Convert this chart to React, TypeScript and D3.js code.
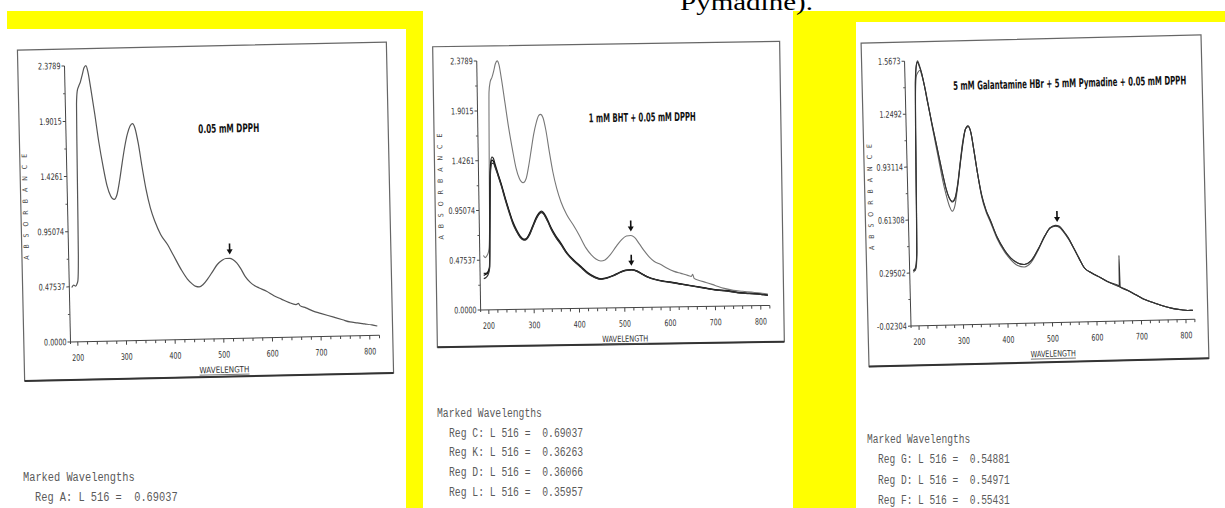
import React, { useLayoutEffect, useRef, useState } from 'react';
import * as d3 from 'd3';

type Pt = [number, number];

// ---------------- data ----------------
const xTickValues = [200, 300, 400, 500, 600, 700, 800];
const yTickLabelsDPPH = ['0.0000', '0.47537', '0.95074', '1.4261', '1.9015', '2.3789'];
const yTickLabelsGal = ['-0.02304', '0.29502', '0.61308', '0.93114', '1.2492', '1.5673'];

const markedA = ['Reg A: L 516 =  0.69037'];
const markedBHT = [
  'Reg C: L 516 =  0.69037',
  'Reg K: L 516 =  0.36263',
  'Reg D: L 516 =  0.36066',
  'Reg L: L 516 =  0.35957',
];
const markedGal = [
  'Reg G: L 516 =  0.54881',
  'Reg D: L 516 =  0.54971',
  'Reg F: L 516 =  0.55431',
];

const dpphA: Pt[] = [
  [190, 0.47], [194, 0.49], [198, 0.48], [201, 0.5], [203, 0.53], [205, 0.75], [206, 1.2], [207, 1.7],
  [208, 2.05], [210, 2.16], [213, 2.2], [217, 2.24], [221, 2.3], [225, 2.36], [229, 2.378], [233, 2.32],
  [238, 2.18], [245, 1.96], [252, 1.72], [260, 1.5], [267, 1.34], [274, 1.25], [281, 1.22], [287, 1.26],
  [293, 1.38], [299, 1.53], [305, 1.67], [311, 1.78], [317, 1.85], [322, 1.87], [327, 1.83], [333, 1.7],
  [340, 1.49], [347, 1.3], [355, 1.14], [364, 1.02], [375, 0.91], [389, 0.82], [400, 0.73], [416, 0.6],
  [428, 0.52], [437, 0.48], [445, 0.455], [452, 0.45], [460, 0.47], [470, 0.52], [480, 0.58], [490, 0.64],
  [500, 0.675], [508, 0.69], [516, 0.69], [522, 0.68], [530, 0.65], [538, 0.6], [547, 0.53], [557, 0.48],
  [566, 0.45], [575, 0.43], [590, 0.4], [605, 0.36], [620, 0.33], [635, 0.3], [650, 0.28], [655, 0.29],
  [658, 0.27], [670, 0.25], [685, 0.22], [700, 0.2], [715, 0.18], [730, 0.16], [745, 0.14], [760, 0.12],
  [775, 0.11], [790, 0.1], [805, 0.09], [816, 0.08],
];

const dpphC: Pt[] = [
  [190, 0.52], [194, 0.5], [198, 0.52], [201, 0.55], [203, 0.6], [205, 0.9], [206, 1.4], [207, 1.8],
  [208, 2.08], [211, 2.18], [215, 2.22], [219, 2.28], [223, 2.35], [227, 2.378], [231, 2.34], [236, 2.2],
  [243, 1.97], [250, 1.74], [258, 1.52], [265, 1.35], [272, 1.25], [280, 1.21], [287, 1.25], [293, 1.37],
  [299, 1.52], [305, 1.67], [311, 1.78], [317, 1.85], [321, 1.86], [326, 1.83], [332, 1.71], [339, 1.5],
  [346, 1.31], [354, 1.15], [363, 1.02], [375, 0.9], [389, 0.8], [402, 0.7], [416, 0.58], [428, 0.51],
  [438, 0.47], [449, 0.45], [458, 0.46], [470, 0.51], [482, 0.58], [495, 0.65], [506, 0.685], [516, 0.69],
  [524, 0.67], [534, 0.61], [545, 0.54], [556, 0.48], [566, 0.44], [580, 0.41], [595, 0.37], [610, 0.34],
  [625, 0.32], [640, 0.3], [648, 0.29], [651, 0.31], [654, 0.27], [665, 0.25], [680, 0.23], [700, 0.2],
  [720, 0.17], [740, 0.15], [760, 0.14], [780, 0.13], [800, 0.12], [816, 0.11],
];

const bhtK: Pt[] = [
  [190, 0.35], [195, 0.35], [200, 0.37], [203, 0.41], [205, 0.8], [207, 1.2], [209, 1.4], [212, 1.46],
  [215, 1.45], [219, 1.39], [225, 1.3], [232, 1.2], [240, 1.07], [248, 0.95], [256, 0.84], [264, 0.76],
  [272, 0.7], [280, 0.67], [286, 0.68], [293, 0.73], [300, 0.8], [307, 0.87], [314, 0.92], [320, 0.935],
  [326, 0.91], [333, 0.85], [341, 0.77], [350, 0.7], [361, 0.63], [375, 0.53], [390, 0.46], [405, 0.4],
  [420, 0.34], [435, 0.3], [449, 0.28], [462, 0.29], [475, 0.31], [490, 0.34], [503, 0.36], [516, 0.363],
  [528, 0.35], [540, 0.32], [553, 0.29], [566, 0.27], [585, 0.25], [600, 0.24], [625, 0.22], [650, 0.2],
  [675, 0.18], [700, 0.16], [725, 0.15], [750, 0.13], [775, 0.12], [800, 0.11], [816, 0.1],
];
const bhtD: Pt[] = [
  [190, 0.33], [195, 0.34], [200, 0.36], [203, 0.4], [205, 0.78], [207, 1.18], [209, 1.37], [212, 1.43],
  [215, 1.42], [219, 1.37], [225, 1.29], [232, 1.19], [240, 1.06], [248, 0.94], [256, 0.83], [264, 0.75],
  [272, 0.69], [280, 0.665], [286, 0.675], [293, 0.72], [300, 0.79], [307, 0.86], [314, 0.91], [320, 0.925],
  [326, 0.9], [333, 0.84], [341, 0.76], [350, 0.69], [361, 0.62], [375, 0.525], [390, 0.455], [405, 0.395],
  [420, 0.335], [435, 0.295], [449, 0.277], [462, 0.287], [475, 0.307], [490, 0.337], [503, 0.357], [516, 0.361],
  [528, 0.348], [540, 0.318], [553, 0.288], [566, 0.268], [585, 0.248], [600, 0.238], [625, 0.218], [650, 0.198],
  [675, 0.178], [700, 0.158], [725, 0.145], [750, 0.128], [775, 0.118], [800, 0.108], [816, 0.098],
];
const bhtL: Pt[] = [
  [190, 0.3], [195, 0.31], [200, 0.34], [203, 0.39], [205, 0.76], [207, 1.15], [209, 1.34], [212, 1.4],
  [215, 1.4], [219, 1.36], [225, 1.28], [232, 1.18], [240, 1.05], [248, 0.93], [256, 0.82], [264, 0.745],
  [272, 0.685], [280, 0.66], [286, 0.67], [293, 0.715], [300, 0.785], [307, 0.855], [314, 0.905], [320, 0.92],
  [326, 0.895], [333, 0.835], [341, 0.755], [350, 0.685], [361, 0.615], [375, 0.52], [390, 0.45], [405, 0.39],
  [420, 0.33], [435, 0.292], [449, 0.275], [462, 0.285], [475, 0.305], [490, 0.335], [503, 0.355], [516, 0.36],
  [528, 0.346], [540, 0.316], [553, 0.286], [566, 0.266], [585, 0.246], [600, 0.236], [625, 0.216], [650, 0.196],
  [675, 0.176], [700, 0.156], [725, 0.143], [750, 0.126], [775, 0.116], [800, 0.106], [816, 0.096],
];

const galG: Pt[] = [
  [190, 0.31], [194, 0.31], [197, 0.34], [199, 0.42], [201, 0.75], [203, 1.15], [205, 1.42], [208, 1.53],
  [211, 1.567], [214, 1.55], [219, 1.5], [225, 1.42], [232, 1.31], [240, 1.19], [247, 1.09], [254, 0.99],
  [261, 0.89], [268, 0.8], [275, 0.74], [282, 0.72], [288, 0.74], [295, 0.83], [302, 0.96], [309, 1.08],
  [315, 1.15], [321, 1.17], [327, 1.13], [333, 1.02], [340, 0.88], [348, 0.75], [357, 0.66], [366, 0.6],
  [380, 0.5], [396, 0.42], [410, 0.37], [425, 0.34], [440, 0.33], [455, 0.35], [472, 0.42], [488, 0.5],
  [500, 0.545], [512, 0.555], [520, 0.55], [530, 0.52], [540, 0.48], [552, 0.42], [563, 0.36], [575, 0.3],
  [590, 0.27], [610, 0.24], [630, 0.21], [650, 0.185], [670, 0.16], [690, 0.13], [710, 0.1], [730, 0.08],
  [750, 0.06], [770, 0.045], [790, 0.035], [805, 0.03], [816, 0.03],
];
const galD: Pt[] = [
  [190, 0.3], [194, 0.31], [197, 0.33], [199, 0.4], [201, 0.7], [203, 1.1], [205, 1.38], [208, 1.48],
  [212, 1.5], [216, 1.51], [220, 1.48], [226, 1.41], [233, 1.3], [240, 1.18], [247, 1.07], [254, 0.96],
  [261, 0.85], [268, 0.76], [275, 0.69], [281, 0.66], [287, 0.69], [294, 0.8], [301, 0.94], [308, 1.07],
  [315, 1.15], [321, 1.17], [327, 1.13], [333, 1.02], [340, 0.88], [348, 0.74], [357, 0.65], [366, 0.59],
  [380, 0.49], [396, 0.41], [410, 0.36], [425, 0.325], [440, 0.315], [455, 0.34], [472, 0.415], [488, 0.5],
  [500, 0.545], [512, 0.556], [520, 0.55], [530, 0.52], [540, 0.48], [552, 0.42], [563, 0.36], [575, 0.3],
  [590, 0.27], [610, 0.24], [630, 0.21], [650, 0.185], [670, 0.16], [690, 0.13], [710, 0.1], [730, 0.08],
  [750, 0.06], [770, 0.045], [790, 0.035], [805, 0.03], [816, 0.03],
];
const galF: Pt[] = [
  [190, 0.31], [194, 0.32], [197, 0.35], [199, 0.43], [201, 0.76], [203, 1.16], [205, 1.43], [208, 1.54],
  [211, 1.56], [214, 1.54], [219, 1.5], [225, 1.42], [232, 1.31], [240, 1.19], [247, 1.09], [254, 0.99],
  [261, 0.89], [268, 0.8], [275, 0.74], [282, 0.715], [288, 0.735], [295, 0.82], [302, 0.95], [309, 1.07],
  [315, 1.15], [321, 1.165], [327, 1.13], [333, 1.02], [340, 0.88], [348, 0.75], [357, 0.66], [366, 0.6],
  [380, 0.5], [396, 0.42], [410, 0.37], [425, 0.34], [440, 0.33], [455, 0.35], [472, 0.42], [488, 0.5],
  [500, 0.547], [512, 0.56], [520, 0.555], [530, 0.525], [540, 0.485], [552, 0.42], [563, 0.36], [575, 0.3],
  [590, 0.27], [610, 0.24], [630, 0.21], [650, 0.19], [652, 0.185], [653, 0.37], [654, 0.18], [670, 0.16],
  [690, 0.13], [710, 0.1], [730, 0.08], [750, 0.06], [770, 0.045], [790, 0.035], [805, 0.03], [816, 0.03],
];

// ---------------- layout ----------------
interface Series { data: Pt[]; color: string; width: number }
interface PanelCfg {
  frame: [number, number, number, number];
  angle: number;
  xRange: [number, number];
  axisStart: number;
  yRange: [number, number];
  yLabels: string[];
  title: string;
  titleX: number;
  titleY: number;
  titleW: number;
  ylabX: number;
  ylabY: number;
  wlW: number;
  series: Series[];
  arrows: number[];
}

const panels: PanelCfg[] = [
  {
    frame: [21, 46, 390, 377], angle: -1.25,
    xRange: [75, 367], axisStart: 185, yRange: [339, 63], yLabels: yTickLabelsDPPH,
    title: '0.05 mM DPPH', titleX: 200, titleY: 128, titleW: 61,
    ylabX: 25, ylabY: 203, wlW: 50,
    series: [{ data: dpphA, color: '#555', width: 1.2 }],
    arrows: [0.69],
  },
  {
    frame: [435, 44, 782, 344.5], angle: -0.9,
    xRange: [487, 759], axisStart: 182, yRange: [308, 59], yLabels: yTickLabelsDPPH,
    title: '1 mM BHT + 0.05 mM DPPH', titleX: 590, titleY: 117, titleW: 107,
    ylabX: 440, ylabY: 184, wlW: 46,
    series: [
      { data: dpphC, color: '#777', width: 1.1 },
      { data: bhtK, color: '#222', width: 1.2 },
      { data: bhtD, color: '#111', width: 1.2 },
      { data: bhtL, color: '#333', width: 1.2 },
    ],
    arrows: [0.69, 0.363],
  },
  {
    frame: [865, 39, 1205, 362.5], angle: -1.4,
    xRange: [916, 1183], axisStart: 182, yRange: [323, 58], yLabels: yTickLabelsGal,
    title: '5 mM Galantamine HBr + 5 mM Pymadine + 0.05 mM DPPH', titleX: 956, titleY: 83, titleW: 233,
    ylabX: 870, ylabY: 193, wlW: 45,
    series: [
      { data: galD, color: '#666', width: 1.1 },
      { data: galG, color: '#444', width: 1.1 },
      { data: galF, color: '#333', width: 1.1 },
    ],
    arrows: [0.556],
  },
];

const markedBlocks = [
  { header: 'Marked Wavelengths', lines: markedA, hx: 23, rx: 35, y: 477, step: 20, cw: 6.2 },
  { header: 'Marked Wavelengths', lines: markedBHT, hx: 437, rx: 449, y: 413, step: 19.7, cw: 5.83 },
  { header: 'Marked Wavelengths', lines: markedGal, hx: 867, rx: 878, y: 439, step: 20.3, cw: 5.73 },
];

const condensed = "'DejaVu Sans Condensed', 'Liberation Sans Narrow', 'DejaVu Sans', sans-serif";

function labelWidth(s: string) {
  let w = 0;
  for (const c of s) w += c === '.' ? 2 : c === '-' ? 3.5 : 4.1;
  return w;
}

// text squeezed horizontally to a given width with a real transform (keeps bbox honest)
function FitText(props: {
  x: number; y: number; width: number; text: string; fontFamily: string; fontSize: number;
  fontWeight?: string; fill: string; anchor?: string;
}) {
  const ref = useRef<SVGTextElement>(null);
  const [s, setS] = useState(0.7);
  useLayoutEffect(() => {
    if (ref.current) {
      const len = ref.current.getComputedTextLength();
      if (len > 0) setS(props.width / len);
    }
  }, [props.text, props.width, props.fontSize, props.fontFamily]);
  return (
    <text ref={ref} transform={`translate(${props.x},${props.y}) scale(${s},1)`} x={0} y={0}
      textAnchor={props.anchor || 'start'} fontFamily={props.fontFamily} fontSize={props.fontSize}
      fontWeight={props.fontWeight} fill={props.fill} style={{ whiteSpace: 'pre' }}>
      {props.text}
    </text>
  );
}

function Panel({ cfg }: { cfg: PanelCfg }) {
  const x = d3.scaleLinear().domain([200, 800]).range(cfg.xRange);
  const yVals = cfg.yLabels.map(Number);
  const y = d3.scaleLinear().domain([yVals[0], yVals[yVals.length - 1]]).range(cfg.yRange);
  const line = d3.line<Pt>().x((d) => x(d[0])).y((d) => y(d[1])).curve(d3.curveMonotoneX);
  const [fx0, fy0, fx1, fy1] = cfg.frame;
  const cx = (fx0 + fx1) / 2;
  const cy = (fy0 + fy1) / 2;
  const ax = x(cfg.axisStart);
  const axEnd = x(820);
  const yBase = cfg.yRange[0];
  const yTop = cfg.yRange[1];
  const minorX = d3.range(200, 821, 20);
  const minorY = yVals.slice(0, -1).map((v, i) => (v + yVals[i + 1]) / 2);
  const wlX = x(500);
  return (
    <g transform={`rotate(${cfg.angle},${cx},${cy})`}>
      <rect x={fx0} y={fy0} width={fx1 - fx0} height={fy1 - fy0} fill="none" stroke="#666" strokeWidth={1.2} />
      <line x1={fx0} x2={fx1} y1={fy1} y2={fy1} stroke="#333" strokeWidth={2} />
      <line x1={ax} x2={ax} y1={yTop} y2={yBase + 2} stroke="#444" strokeWidth={1} />
      <line x1={ax} x2={axEnd} y1={yBase} y2={yBase} stroke="#444" strokeWidth={1} />
      {yVals.map((v, i) => (
        <g key={'yt' + i}>
          <line x1={ax - 3} x2={ax} y1={y(v)} y2={y(v)} stroke="#444" />
          <text x={ax - 4} y={y(v) + 3} textAnchor="end" fontFamily={condensed} fontSize={9}
            fill="#333" textLength={labelWidth(cfg.yLabels[i])} lengthAdjust="spacingAndGlyphs">
            {cfg.yLabels[i]}
          </text>
        </g>
      ))}
      {minorY.map((v, i) => (
        <line key={'ym' + i} x1={ax - 2} x2={ax} y1={y(v)} y2={y(v)} stroke="#555" />
      ))}
      {minorX.map((v) => (
        <line key={'xm' + v} x1={x(v)} x2={x(v)} y1={yBase} y2={yBase + (v % 100 === 0 ? 4 : 3)} stroke="#444" />
      ))}
      {xTickValues.map((v) => (
        <text key={'xl' + v} x={x(v)} y={yBase + 19} textAnchor="middle" fontFamily={condensed} fontSize={9}
          fill="#333" textLength={12} lengthAdjust="spacingAndGlyphs">
          {v}
        </text>
      ))}
      <text x={wlX} y={yBase + 34} textAnchor="middle" fontFamily={condensed} fontSize={8.5} fill="#333"
        textLength={cfg.wlW} lengthAdjust="spacingAndGlyphs">
        WAVELENGTH
      </text>
      <line x1={wlX - cfg.wlW / 2} x2={wlX + cfg.wlW / 2} y1={yBase + 36} y2={yBase + 36} stroke="#555" strokeWidth={0.8} />
      <text transform={`translate(${cfg.ylabX + 3},${cfg.ylabY}) rotate(-90)`} textAnchor="middle"
        fontFamily={condensed} fontSize={7} fill="#444" textLength={106} lengthAdjust="spacing">
        ABSORBANCE
      </text>
      <FitText x={cfg.titleX} y={cfg.titleY + 5} width={cfg.titleW} text={cfg.title}
        fontFamily={condensed} fontWeight="bold" fontSize={12} fill="#111" />
      {cfg.series.map((s, i) => (
        <path key={'s' + i} d={line(s.data) || ''} fill="none" stroke={s.color} strokeWidth={s.width} />
      ))}
      {cfg.arrows.map((v, i) => {
        const px = x(516);
        const tip = y(v) - 4;
        return (
          <g key={'a' + i}>
            <line x1={px} x2={px} y1={tip - 11} y2={tip - 3} stroke="#111" strokeWidth={1.6} />
            <path d={`M${px - 3},${tip - 5} L${px + 3},${tip - 5} L${px},${tip} Z`} fill="#111" />
          </g>
        );
      })}
    </g>
  );
}

export default function App() {
  return (
    <svg width={1225} height={508} style={{ position: 'absolute', left: 0, top: 0, background: '#fff' }}>
      <rect x={0} y={0} width={1225} height={508} fill="#fff" />
      <rect x={7} y={11} width={416} height={18} fill="#ffff00" />
      <rect x={406} y={11} width={17} height={497} fill="#ffff00" />
      <rect x={793} y={11} width={432} height={11} fill="#ffff00" />
      <rect x={793} y={11} width={63} height={497} fill="#ffff00" />
      <FitText x={680} y={10} width={133} text="Pymadine)." fontFamily="'Liberation Serif', 'Times New Roman', serif"
        fontSize={24} fill="#000" />
      {panels.map((p, i) => (
        <Panel key={i} cfg={p} />
      ))}
      {markedBlocks.map((b, i) => (
        <g key={'m' + i} fontFamily="'Liberation Mono', 'Courier New', monospace" fontSize={12} fill="#5a5a5a">
          <text x={b.hx} y={b.y + 4} textLength={b.header.length * b.cw} lengthAdjust="spacingAndGlyphs">
            {b.header}
          </text>
          {b.lines.map((l, j) => (
            <text key={j} x={b.rx} y={b.y + 4 + (j + 1) * b.step} style={{ whiteSpace: 'pre' }}
              textLength={l.length * b.cw} lengthAdjust="spacingAndGlyphs">
              {l}
            </text>
          ))}
        </g>
      ))}
    </svg>
  );
}
